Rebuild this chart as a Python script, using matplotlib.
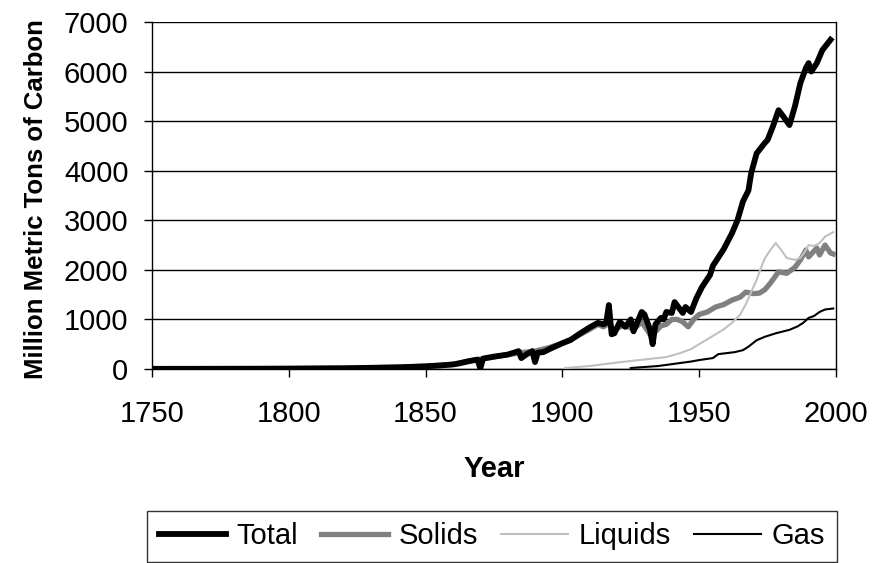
import matplotlib
matplotlib.use("Agg")
import matplotlib.pyplot as plt

plt.rcParams['font.family'] = ['Liberation Sans', 'DejaVu Sans']

# carbon emissions by fuel, million metric tons of carbon
total_years = [1751, 1770, 1790, 1800, 1820, 1830, 1840, 1850, 1855, 1860, 1862, 1866,
               1869, 1870, 1871, 1875, 1880, 1884, 1885, 1887, 1889, 1890, 1891, 1893,
               1896, 1900, 1903, 1906, 1910, 1913, 1915, 1916, 1917, 1918, 1919, 1921,
               1923, 1925, 1926, 1929, 1930, 1932, 1933, 1934, 1936, 1937, 1938, 1940,
               1941, 1944, 1945, 1947, 1949, 1951, 1954, 1955, 1957, 1959, 1962, 1964,
               1966, 1968, 1969, 1971, 1974, 1975, 1977, 1979, 1980, 1983, 1985, 1987,
               1989, 1990, 1991, 1993, 1995, 1998]
total = [3, 4, 6, 8, 14, 24, 33, 54, 70, 91, 110, 160,
         190, 10, 210, 250, 290, 360, 220, 300, 360, 140, 330, 340,
         420, 520, 585, 700, 840, 930, 900, 930, 1290, 700, 720, 950,
         850, 1000, 760, 1150, 1100, 800, 500, 900, 1030, 1000, 1150, 1130,
         1350, 1130, 1250, 1150, 1430, 1650, 1900, 2080, 2250, 2420, 2740, 3000,
         3380, 3600, 3950, 4350, 4560, 4620, 4900, 5220, 5150, 4920, 5300, 5770,
         6070, 6170, 6000, 6170, 6430, 6640]

solids_years = [1751, 1800, 1830, 1850, 1860, 1865, 1870, 1875, 1880, 1885, 1890, 1895,
                1900, 1905, 1910, 1913, 1915, 1917, 1919, 1921, 1923, 1926, 1929, 1932,
                1934, 1936, 1938, 1940, 1942, 1944, 1946, 1948, 1950, 1953, 1956, 1959,
                1962, 1965, 1967, 1970, 1972, 1974, 1976, 1979, 1982, 1985, 1987, 1989,
                1990, 1993, 1994, 1996, 1998, 1999]
solids = [3, 8, 24, 54, 95, 150, 200, 240, 290, 330, 360, 430,
          520, 650, 800, 900, 850, 920, 780, 850, 880, 800, 950, 700,
          750, 870, 900, 1000, 1000, 950, 850, 1000, 1100, 1150, 1250, 1300,
          1390, 1450, 1550, 1520, 1530, 1600, 1730, 1960, 1930, 2050, 2200, 2400,
          2260, 2440, 2300, 2500, 2340, 2320]

liquids_years = [1901, 1910, 1920, 1928, 1938, 1943, 1947, 1950, 1953, 1956, 1959, 1962,
                 1965, 1967, 1969, 1971, 1973, 1974, 1976, 1978, 1980, 1982, 1985, 1987,
                 1989, 1990, 1992, 1994, 1996, 1999]
liquids = [20, 60, 130, 180, 240, 320, 400, 500, 600, 700, 800, 930,
           1100, 1300, 1550, 1800, 2100, 2230, 2400, 2540, 2400, 2240, 2200, 2240,
           2400, 2500, 2480, 2540, 2670, 2760]

gas_years = [1925, 1935, 1943, 1947, 1950, 1955, 1957, 1960, 1963, 1966, 1968, 1971,
             1974, 1978, 1983, 1986, 1988, 1990, 1992, 1994, 1996, 1999]
gas = [20, 60, 120, 150, 180, 220, 300, 320, 340, 380, 450, 580,
       650, 720, 790, 860, 930, 1030, 1070, 1150, 1200, 1220]

fig = plt.figure(figsize=(8.75, 5.63), dpi=100)
ax = fig.add_axes([0.1737, 0.3446, 0.9554 - 0.1737, 0.961 - 0.3446])

ax.plot(total_years, total, color='black', lw=4.2, label='Total', zorder=5,
        solid_joinstyle='round')
ax.plot(solids_years, solids, color='#808080', lw=3.8, label='Solids', zorder=3)
ax.plot(liquids_years, liquids, color='#c0c0c0', lw=1.5, label='Liquids', zorder=4)
ax.plot(gas_years, gas, color='black', lw=1.5, label='Gas', zorder=4)

ax.set_xlim(1750, 2000)
ax.set_ylim(0, 7000)
ax.set_xticks(range(1750, 2001, 50))
ax.set_yticks(range(0, 7001, 1000))
ax.yaxis.grid(True, color='black', lw=1)
ax.set_axisbelow(True)
for s in ax.spines.values():
    s.set_linewidth(1)
ax.spines['top'].set_visible(False)
ax.tick_params(axis='both', direction='out', length=6, width=1, labelsize=21)
ax.tick_params(axis='y', pad=11)
ax.tick_params(axis='x', pad=16)

ax.set_xlabel('Year', fontsize=21, fontweight='bold', labelpad=20)
ax.set_ylabel('Million Metric Tons of Carbon', fontsize=18.5, fontweight='bold')
ax.yaxis.set_label_coords(-0.152, 0.49)

leg = fig.legend(loc='lower center', bbox_to_anchor=(0.5623, 0.002), ncol=4,
                 fontsize=21, frameon=True, fancybox=False, handlelength=2.3,
                 columnspacing=0.8, handletextpad=0.35, borderpad=0.4,
                 borderaxespad=0.0)
leg.get_frame().set_edgecolor('black')
leg.get_frame().set_linewidth(1)

fig.savefig('out.png', dpi=100)
